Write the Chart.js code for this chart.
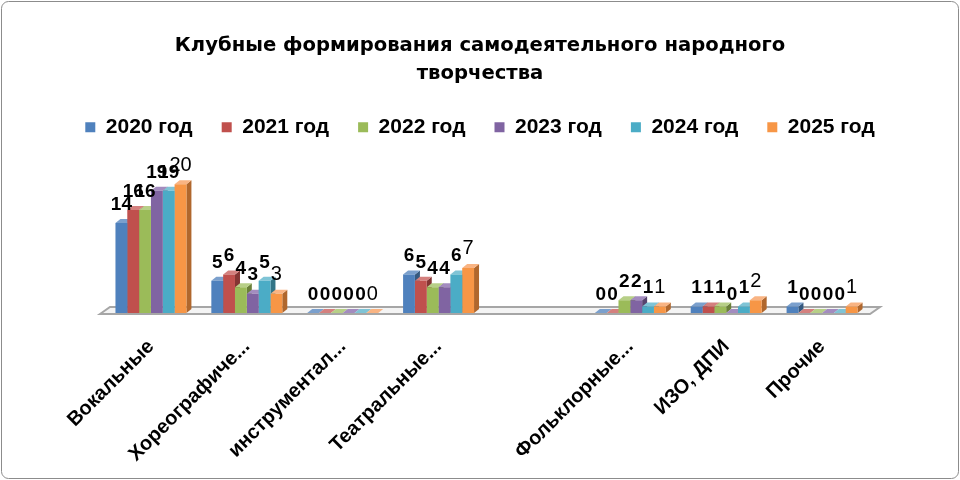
<!doctype html>
<html lang="ru">
<head>
  <meta charset="utf-8">
  <title>Клубные формирования</title>
  <style>
    body { margin: 0; background: #fff; }
  </style>
</head>
<body>
  <canvas id="chart" width="960" height="480"></canvas>

  <script src="https://cdn.jsdelivr.net/npm/chart.js@4/dist/chart.umd.min.js"></script>
  <script>
  // data
  const categories = ['Вокальные', 'Хореографиче...', 'инструментал...', 'Театральные...', '', 'Фольклорные...', 'ИЗО, ДПИ', 'Прочие'];
  const years = ['2020 год', '2021 год', '2022 год', '2023 год', '2024 год', '2025 год'];
  const y2020 = [14, 5, 0, 6, null, 0, 1, 1];
  const y2021 = [16, 6, 0, 5, null, 0, 1, 0];
  const y2022 = [16, 4, 0, 4, null, 2, 1, 0];
  const y2023 = [19, 3, 0, 4, null, 2, 0, 0];
  const y2024 = [19, 5, 0, 6, null, 1, 1, 0];
  const y2025 = [20, 3, 0, 7, null, 1, 2, 1];

  const colors = ['#4F81BD', '#C0504D', '#9BBB59', '#8064A2', '#4BACC6', '#F79646'];
  const sides  = ['#36597f', '#843533', '#6a8039', '#57446e', '#327586', '#b0672d'];
  const tops   = ['#7ba0cd', '#d4807e', '#b7cf87', '#a38cbf', '#7fc4d6', '#f9b483'];
  const FONT = '"Liberation Sans", Arial, sans-serif';
  const DX = 5, DY = 4;

  const series = [y2020, y2021, y2022, y2023, y2024, y2025];

  // outer frame, floor plane, 3D faces and value labels
  const bars3d = {
    id: 'bars3d',
    beforeDraw(chart) {
      const ctx = chart.ctx;
      ctx.save();
      ctx.strokeStyle = '#8c8c8c';
      ctx.lineWidth = 1;
      ctx.beginPath();
      ctx.roundRect(1.5, 1.5, chart.width - 3, chart.height - 3, 7);
      ctx.stroke();
      ctx.restore();
    },
    beforeDatasetsDraw(chart) {
      const ctx = chart.ctx;
      const a = chart.chartArea;
      const base = chart.scales.y.getPixelForValue(0);
      ctx.save();
      ctx.beginPath();
      ctx.moveTo(a.left - 3, base + 1);
      ctx.lineTo(a.left + 7, base - 6);
      ctx.lineTo(a.right + 10, base - 6);
      ctx.lineTo(a.right, base + 1);
      ctx.closePath();
      ctx.fillStyle = '#f4f4f4';
      ctx.fill();
      ctx.strokeStyle = '#a6a6a6';
      ctx.lineWidth = 2;
      ctx.stroke();

      for (let c = 0; c < categories.length; c++) {
        for (let d = 0; d < series.length; d++) {
          if (series[d][c] == null) continue;
          const el = chart.getDatasetMeta(d).data[c];
          const l = el.x - el.width / 2, r = el.x + el.width / 2;
          const t = el.y, b = el.base;
          ctx.fillStyle = sides[d];
          ctx.beginPath();
          ctx.moveTo(r, t); ctx.lineTo(r + DX, t - DY);
          ctx.lineTo(r + DX, b - DY); ctx.lineTo(r, b);
          ctx.closePath(); ctx.fill();
          ctx.fillStyle = tops[d];
          ctx.beginPath();
          ctx.moveTo(l, t); ctx.lineTo(l + DX, t - DY);
          ctx.lineTo(r + DX, t - DY); ctx.lineTo(r, t);
          ctx.closePath(); ctx.fill();
        }
      }
      ctx.restore();
    },
    afterDatasetsDraw(chart) {
      const ctx = chart.ctx;
      ctx.save();
      ctx.fillStyle = '#000';
      ctx.textAlign = 'center';
      ctx.textBaseline = 'bottom';
      for (let d = 0; d < series.length; d++) {
        ctx.font = (d === 5 ? 'normal 20px ' : 'bold 19px ') + FONT;
        chart.getDatasetMeta(d).data.forEach((el, c) => {
          const v = series[d][c];
          if (v == null) return;
          ctx.fillText(String(v), el.x, el.y - DY - 5);
        });
      }
      ctx.restore();
    }
  };

  new Chart(document.getElementById('chart'), {
    type: 'bar',
    data: {
      labels: categories,
      datasets: series.map((s, i) => ({
        label: years[i],
        data: s,
        backgroundColor: colors[i],
        borderWidth: 0,
        barPercentage: 1,
        categoryPercentage: 0.74
      }))
    },
    options: {
      responsive: false,
      animation: false,
      layout: { padding: 0 },
      plugins: {
        title: {
          display: true,
          text: ['Клубные формирования самодеятельного народного', 'творчества'],
          color: '#000',
          font: { family: '"DejaVu Sans", sans-serif', size: 19.6, weight: 'bold', lineHeight: 1.42 },
          padding: { top: 32, bottom: 0 }
        },
        legend: {
          labels: {
            color: '#000',
            boxWidth: 10,
            boxHeight: 10,
            padding: 29,
            font: { family: FONT, size: 21, weight: 'bold' }
          }
        },
        tooltip: { enabled: false }
      },
      scales: {
        x: {
          grid: { display: false, drawTicks: false },
          border: { display: false },
          ticks: {
            color: '#000',
            minRotation: 45,
            maxRotation: 45,
            autoSkip: false,
            padding: 22,
            font: { family: FONT, size: 20, weight: 'bold' }
          },
          afterFit(s) { s.height = 167; }
        },
        y: {
          display: true,
          min: 0,
          max: 25.7,
          grid: { display: false },
          border: { display: false },
          ticks: { display: false },
          afterFit(s) { s.width = 103; }
        },
        yr: {
          display: true,
          position: 'right',
          grid: { display: false },
          border: { display: false },
          ticks: { display: false },
          afterFit(s) { s.width = 90; }
        }
      }
    },
    plugins: [bars3d]
  });
  </script>
</body>
</html>
